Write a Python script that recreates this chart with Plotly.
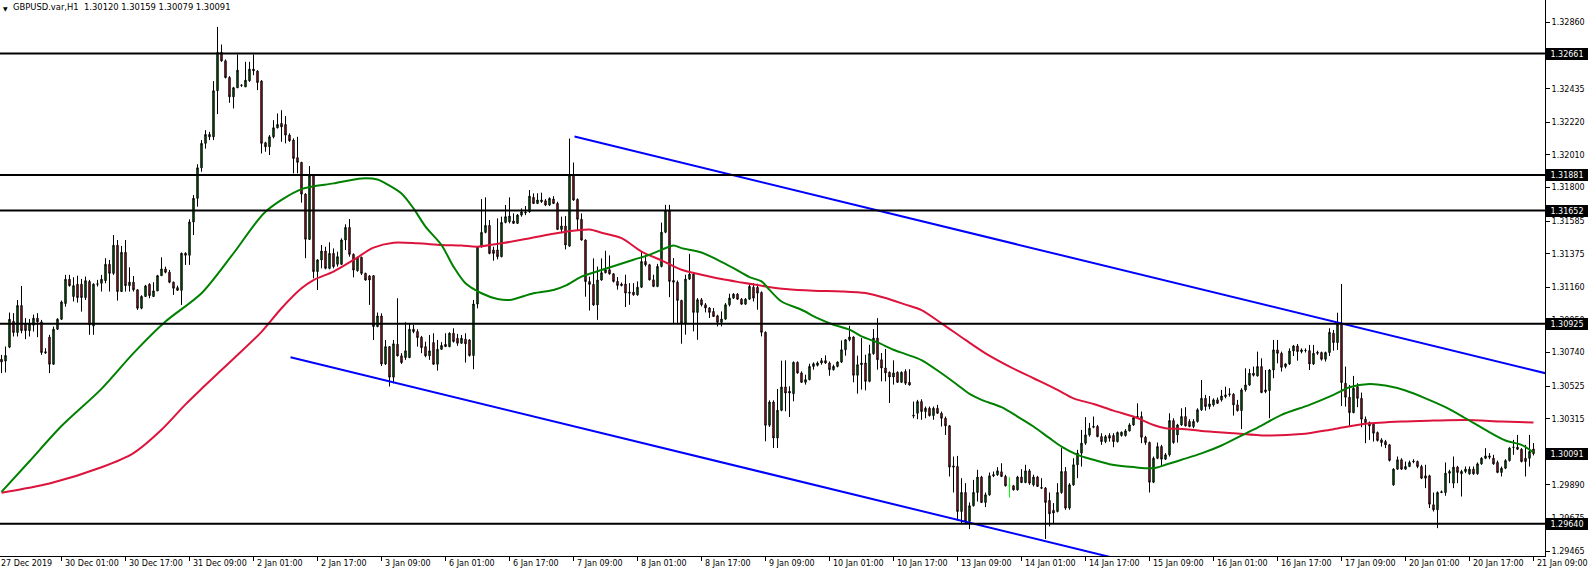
import plotly.graph_objects as go

# ---------------- data (GBPUSD H1, bars numbered from 27 Dec 2019 09:00 = 0) ----------------
open_ = [
 1.30697,1.30685,1.30775,1.30941,1.30869,1.31042,1.30924,1.30881,1.30916,1.30961,
 1.30937,1.30745,1.30839,1.30665,1.30890,1.30954,1.31055,1.31211,1.31100,1.31179,
 1.31179,1.31093,1.31196,1.30911,1.31179,1.31185,1.31202,1.31307,1.31249,1.31429,
 1.31132,1.31384,1.31170,1.31192,1.31143,1.31025,1.31100,1.31179,1.31100,1.31136,
 1.31234,1.31277,1.31256,1.31192,1.31157,1.31140,1.31378,1.31365,1.31579,1.31731,
 1.31927,1.32084,1.32141,1.32126,1.32422,1.32668,1.32614,1.32507,1.32383,1.32441,
 1.32456,1.32447,1.32486,1.32561,1.32548,1.32484,1.32088,1.32062,1.32126,1.32184,
 1.32212,1.32205,1.32137,1.32105,1.31992,1.31962,1.31758,1.31467,1.31880,1.31260,
 1.31335,1.31392,1.31281,1.31377,1.31307,1.31307,1.31463,1.31544,1.31371,1.31266,
 1.31352,1.31249,1.31232,1.31234,1.30907,1.30975,1.30667,1.30778,1.30582,1.30793,
 1.30719,1.30708,1.30708,1.30890,1.30875,1.30838,1.30778,1.30719,1.30804,1.30665,
 1.30761,1.30793,1.30778,1.30864,1.30832,1.30800,1.30826,1.30821,1.30721,1.31052,
 1.31420,1.31512,1.31557,1.31399,1.31399,1.31356,1.31576,1.31581,1.31585,1.31570,
 1.31623,1.31638,1.31645,1.31737,1.31698,1.31709,1.31715,1.31688,1.31726,1.31698,
 1.31531,1.31553,1.31424,1.31880,1.31724,1.31596,1.31463,1.31196,1.31178,1.31046,
 1.31206,1.31253,1.31272,1.31246,1.31197,1.31180,1.31180,1.31128,1.31128,1.31111,
 1.31160,1.31325,1.31304,1.31207,1.31165,1.31293,1.31513,1.31652,1.31203,1.31192,
 1.31075,1.30929,1.31212,1.31244,1.30998,1.31079,1.31047,1.31026,1.31004,1.30976,
 1.30934,1.30955,1.31047,1.31090,1.31115,1.31083,1.31051,1.31083,1.31160,1.31158,
 1.31126,1.30870,1.30273,1.30422,1.30191,1.30369,1.30519,1.30491,1.30476,1.30677,
 1.30609,1.30549,1.30566,1.30651,1.30658,1.30673,1.30688,1.30673,1.30630,1.30651,
 1.30679,1.30758,1.30822,1.30840,1.30594,1.30662,1.30673,1.30555,1.30733,1.30833,
 1.30694,1.30641,1.30613,1.30583,1.30613,1.30549,1.30618,1.30549,1.30337,1.30350,
 1.30425,1.30361,1.30382,1.30335,1.30382,1.30350,1.30318,1.30269,1.30012,1.30008,
 1.29719,1.29841,1.29655,1.29756,1.29841,1.29940,1.29777,1.29826,1.29948,1.29955,
 1.29974,1.29944,1.29884,1.29884,1.29858,1.29940,1.29905,1.29980,1.29890,1.29940,
 1.29873,1.29869,1.29790,1.29726,1.29719,1.29841,1.29976,1.29741,1.29890,1.30019,
 1.30094,1.30158,1.30211,1.30260,1.30265,1.30200,1.30168,1.30207,1.30207,1.30168,
 1.30207,1.30207,1.30237,1.30275,1.30322,1.30329,1.30196,1.30162,1.29907,1.30061,
 1.30136,1.30055,1.30083,1.30303,1.30211,1.30275,1.30329,1.30297,1.30265,1.30297,
 1.30372,1.30446,1.30393,1.30404,1.30436,1.30436,1.30457,1.30470,1.30472,1.30404,
 1.30367,1.30500,1.30532,1.30607,1.30590,1.30650,1.30500,1.30496,1.30628,1.30757,
 1.30735,1.30650,1.30667,1.30750,1.30782,1.30746,1.30752,1.30752,1.30667,1.30735,
 1.30740,1.30697,1.30740,1.30864,1.30804,1.30921,1.30543,1.30453,1.30354,1.30521,
 1.30446,1.30312,1.30290,1.30280,1.30226,1.30179,1.30168,1.30147,1.29890,1.29991,
 1.30051,1.29991,1.30008,1.30038,1.30040,1.30008,1.29948,1.29948,1.29762,1.29730,
 1.29841,1.29841,1.29965,1.29901,1.30004,1.29961,1.29976,1.29961,1.29991,1.29961,
 1.30025,1.30061,1.30076,1.30061,1.30034,1.29970,1.29997,1.30046,1.30130,1.30132,
 1.30119,1.30061,1.30061,1.30120]
high = [
 1.30725,1.30779,1.30997,1.30993,1.31078,1.31168,1.30961,1.30956,1.30984,1.30993,
 1.30950,1.30768,1.30854,1.30907,1.30961,1.31074,1.31239,1.31239,1.31224,1.31234,
 1.31213,1.31228,1.31207,1.31185,1.31207,1.31239,1.31346,1.31335,1.31495,1.31463,
 1.31425,1.31463,1.31288,1.31232,1.31147,1.31108,1.31175,1.31185,1.31192,1.31239,
 1.31352,1.31292,1.31271,1.31196,1.31170,1.31382,1.31384,1.31596,1.31752,1.31950,
 1.32105,1.32169,1.32158,1.32484,1.32832,1.32719,1.32623,1.32516,1.32447,1.32655,
 1.32462,1.32608,1.32608,1.32655,1.32554,1.32490,1.32094,1.32137,1.32233,1.32276,
 1.32297,1.32259,1.32148,1.32116,1.32126,1.31965,1.31763,1.31938,1.31885,1.31340,
 1.31431,1.31420,1.31448,1.31409,1.31388,1.31474,1.31564,1.31598,1.31377,1.31356,
 1.31356,1.31253,1.31238,1.31238,1.30997,1.30992,1.30821,1.30782,1.30821,1.31089,
 1.30736,1.30935,1.30928,1.30918,1.30890,1.30847,1.30810,1.30853,1.30864,1.30821,
 1.30807,1.30864,1.30870,1.30896,1.30860,1.30853,1.30864,1.30825,1.31078,1.31424,
 1.31726,1.31737,1.31591,1.31420,1.31602,1.31613,1.31688,1.31737,1.31634,1.31630,
 1.31666,1.31681,1.31784,1.31763,1.31763,1.31767,1.31726,1.31737,1.31745,1.31709,
 1.31613,1.31617,1.32115,1.31961,1.31730,1.31634,1.31467,1.31228,1.31345,1.31292,
 1.31345,1.31394,1.31364,1.31250,1.31225,1.31190,1.31240,1.31186,1.31186,1.31197,
 1.31389,1.31368,1.31310,1.31240,1.31310,1.31575,1.31689,1.31689,1.31347,1.31203,
 1.31079,1.31240,1.31374,1.31250,1.31090,1.31090,1.31058,1.31032,1.31026,1.30983,
 1.31004,1.31058,1.31118,1.31122,1.31122,1.31090,1.31090,1.31182,1.31186,1.31182,
 1.31133,1.30876,1.30433,1.30433,1.30506,1.30688,1.30690,1.30523,1.30683,1.30683,
 1.30619,1.30598,1.30668,1.30677,1.30683,1.30705,1.30722,1.30683,1.30662,1.30683,
 1.30818,1.30827,1.30912,1.30844,1.30720,1.30833,1.30726,1.30790,1.30891,1.30961,
 1.30737,1.30763,1.30619,1.30690,1.30619,1.30619,1.30633,1.30633,1.30425,1.30436,
 1.30440,1.30393,1.30393,1.30393,1.30404,1.30361,1.30329,1.30275,1.30072,1.30076,
 1.29933,1.29901,1.29777,1.29922,1.29987,1.29948,1.29841,1.29969,1.29976,1.30004,
 1.30029,1.29955,1.29940,1.29890,1.29948,1.29991,1.30019,1.29991,1.29955,1.29948,
 1.29933,1.29876,1.29841,1.29773,1.29901,1.30126,1.30004,1.29901,1.30061,1.30115,
 1.30243,1.30325,1.30288,1.30329,1.30275,1.30222,1.30211,1.30222,1.30222,1.30233,
 1.30233,1.30248,1.30286,1.30329,1.30414,1.30361,1.30205,1.30168,1.30072,1.30162,
 1.30147,1.30094,1.30350,1.30318,1.30282,1.30382,1.30389,1.30312,1.30312,1.30382,
 1.30564,1.30468,1.30461,1.30446,1.30451,1.30500,1.30521,1.30511,1.30479,1.30436,
 1.30511,1.30639,1.30635,1.30650,1.30746,1.30703,1.30628,1.30633,1.30821,1.30821,
 1.30746,1.30671,1.30767,1.30789,1.30795,1.30767,1.30767,1.30789,1.30789,1.30752,
 1.30746,1.30746,1.30896,1.30885,1.30996,1.31180,1.30650,1.30532,1.30590,1.30543,
 1.30483,1.30329,1.30297,1.30286,1.30233,1.30190,1.30179,1.30153,1.29997,1.30072,
 1.30061,1.30040,1.30046,1.30055,1.30046,1.30019,1.30019,1.29955,1.29841,1.29848,
 1.29854,1.30034,1.29987,1.30072,1.30012,1.29987,1.30008,1.30008,1.30008,1.30034,
 1.30068,1.30126,1.30094,1.30083,1.30046,1.30008,1.30055,1.30132,1.30179,1.30211,
 1.30126,1.30147,1.30211,1.30159]
low = [
 1.30608,1.30612,1.30768,1.30843,1.30843,1.30864,1.30826,1.30843,1.30875,1.30839,
 1.30725,1.30732,1.30608,1.30661,1.30886,1.30950,1.31035,1.31164,1.31068,1.31061,
 1.31003,1.31078,1.30854,1.30854,1.31164,1.31132,1.31185,1.31132,1.31239,1.31074,
 1.31132,1.31132,1.31132,1.31132,1.31014,1.31018,1.31100,1.31089,1.31100,1.31136,
 1.31232,1.31249,1.31185,1.31110,1.31136,1.31046,1.31303,1.31303,1.31495,1.31677,
 1.31902,1.32050,1.32105,1.32105,1.32272,1.32608,1.32501,1.32345,1.32308,1.32441,
 1.32447,1.32447,1.32480,1.32522,1.32426,1.32019,1.32030,1.32009,1.32116,1.32180,
 1.32094,1.32084,1.32094,1.31891,1.31891,1.31703,1.31346,1.31463,1.31217,1.31142,
 1.31281,1.31275,1.31275,1.31281,1.31292,1.31303,1.31399,1.31356,1.31223,1.31260,
 1.31238,1.31202,1.31046,1.30821,1.30903,1.30654,1.30660,1.30522,1.30543,1.30715,
 1.30667,1.30693,1.30704,1.30864,1.30778,1.30736,1.30710,1.30693,1.30661,1.30624,
 1.30757,1.30778,1.30774,1.30804,1.30783,1.30796,1.30676,1.30714,1.30633,1.31024,
 1.31414,1.31506,1.31371,1.31330,1.31339,1.31352,1.31570,1.31570,1.31566,1.31566,
 1.31613,1.31623,1.31638,1.31694,1.31694,1.31702,1.31681,1.31681,1.31694,1.31527,
 1.31506,1.31403,1.31420,1.31715,1.31527,1.31459,1.31099,1.31010,1.31040,1.30950,
 1.31202,1.31249,1.31240,1.31190,1.31144,1.31165,1.31032,1.31047,1.31105,1.31105,
 1.31154,1.31293,1.31203,1.31160,1.31160,1.31287,1.31507,1.31096,1.30929,1.30929,
 1.30797,1.30855,1.31207,1.30876,1.30822,1.31036,1.30998,1.30962,1.30968,1.30908,
 1.30908,1.30951,1.31036,1.31084,1.31079,1.31047,1.31047,1.31079,1.31068,1.31015,
 1.30844,1.30170,1.30262,1.30127,1.30127,1.30363,1.30363,1.30326,1.30427,1.30604,
 1.30545,1.30534,1.30562,1.30630,1.30651,1.30662,1.30668,1.30591,1.30624,1.30645,
 1.30673,1.30720,1.30812,1.30549,1.30476,1.30502,1.30497,1.30549,1.30726,1.30630,
 1.30555,1.30555,1.30416,1.30534,1.30545,1.30545,1.30532,1.30528,1.30318,1.30312,
 1.30308,1.30318,1.30329,1.30308,1.30346,1.30265,1.30211,1.29944,1.29841,1.29661,
 1.29644,1.29644,1.29606,1.29751,1.29783,1.29773,1.29747,1.29820,1.29940,1.29948,
 1.29940,1.29880,1.29809,1.29854,1.29854,1.29901,1.29901,1.29890,1.29880,1.29876,
 1.29863,1.29542,1.29623,1.29644,1.29713,1.29833,1.29730,1.29730,1.29884,1.29933,
 1.30008,1.30147,1.30200,1.30254,1.30196,1.30147,1.30158,1.30168,1.30132,1.30162,
 1.30200,1.30200,1.30233,1.30269,1.30318,1.30158,1.30147,1.29841,1.29901,1.30055,
 1.30008,1.30051,1.30072,1.30154,1.30162,1.30269,1.30265,1.30260,1.30254,1.30290,
 1.30365,1.30367,1.30376,1.30393,1.30410,1.30425,1.30446,1.30457,1.30335,1.30361,
 1.30248,1.30489,1.30526,1.30586,1.30586,1.30479,1.30479,1.30318,1.30575,1.30671,
 1.30618,1.30639,1.30660,1.30718,1.30688,1.30735,1.30740,1.30628,1.30660,1.30725,
 1.30688,1.30682,1.30718,1.30752,1.30757,1.30397,1.30393,1.30269,1.30350,1.30389,
 1.30260,1.30158,1.30179,1.30168,1.30168,1.30136,1.30126,1.30040,1.29884,1.29987,
 1.29987,1.29987,1.30004,1.30029,1.29997,1.29927,1.29869,1.29741,1.29719,1.29612,
 1.29837,1.29820,1.29901,1.29869,1.29901,1.29815,1.29965,1.29955,1.29955,1.29955,
 1.30019,1.30055,1.30055,1.30019,1.29965,1.29944,1.29991,1.30040,1.30083,1.30115,
 1.30034,1.29944,1.30008,1.30079]
close = [
 1.30680,1.30721,1.30954,1.30869,1.31042,1.30881,1.30881,1.30924,1.30961,1.30937,
 1.30740,1.30738,1.30665,1.30890,1.30954,1.31065,1.31211,1.31170,1.31170,1.31093,
 1.31093,1.31202,1.30918,1.31179,1.31181,1.31211,1.31307,1.31249,1.31429,1.31132,
 1.31384,1.31170,1.31192,1.31143,1.31025,1.31100,1.31168,1.31106,1.31136,1.31234,
 1.31277,1.31256,1.31192,1.31153,1.31140,1.31378,1.31365,1.31579,1.31731,1.31927,
 1.32084,1.32141,1.32126,1.32422,1.32668,1.32614,1.32507,1.32383,1.32441,1.32554,
 1.32458,1.32490,1.32561,1.32550,1.32475,1.32084,1.32062,1.32126,1.32184,1.32205,
 1.32190,1.32137,1.32101,1.31987,1.31962,1.31758,1.31468,1.31880,1.31260,1.31335,
 1.31392,1.31281,1.31377,1.31292,1.31356,1.31463,1.31544,1.31371,1.31270,1.31352,
 1.31249,1.31206,1.31206,1.30907,1.30975,1.30667,1.30778,1.30582,1.30796,1.30719,
 1.30676,1.30751,1.30890,1.30875,1.30836,1.30772,1.30719,1.30751,1.30665,1.30761,
 1.30785,1.30778,1.30864,1.30811,1.30800,1.30832,1.30796,1.30721,1.31052,1.31420,
 1.31512,1.31557,1.31377,1.31377,1.31356,1.31576,1.31613,1.31617,1.31570,1.31623,
 1.31645,1.31643,1.31745,1.31698,1.31720,1.31720,1.31688,1.31730,1.31698,1.31531,
 1.31553,1.31431,1.31880,1.31720,1.31596,1.31463,1.31196,1.31178,1.31046,1.31206,
 1.31253,1.31272,1.31246,1.31197,1.31171,1.31171,1.31122,1.31122,1.31111,1.31160,
 1.31325,1.31304,1.31207,1.31165,1.31293,1.31513,1.31652,1.31197,1.31192,1.31075,
 1.30929,1.31212,1.31244,1.30998,1.31079,1.31047,1.31026,1.30998,1.30972,1.30934,
 1.30955,1.31047,1.31090,1.31115,1.31083,1.31051,1.31083,1.31165,1.31090,1.31122,
 1.30870,1.30273,1.30422,1.30191,1.30369,1.30519,1.30480,1.30480,1.30677,1.30609,
 1.30549,1.30566,1.30651,1.30668,1.30673,1.30688,1.30673,1.30630,1.30651,1.30679,
 1.30758,1.30822,1.30840,1.30594,1.30662,1.30673,1.30555,1.30733,1.30833,1.30694,
 1.30641,1.30609,1.30583,1.30609,1.30549,1.30613,1.30543,1.30532,1.30333,1.30425,
 1.30361,1.30382,1.30335,1.30382,1.30350,1.30318,1.30269,1.30004,1.30004,1.29719,
 1.29841,1.29655,1.29756,1.29841,1.29940,1.29777,1.29826,1.29948,1.29955,1.29980,
 1.29944,1.29884,1.29884,1.29858,1.29940,1.29905,1.29980,1.29901,1.29940,1.29880,
 1.29869,1.29777,1.29704,1.29709,1.29841,1.29976,1.29741,1.29890,1.30019,1.30094,
 1.30158,1.30211,1.30254,1.30265,1.30200,1.30168,1.30200,1.30190,1.30168,1.30226,
 1.30228,1.30237,1.30275,1.30322,1.30329,1.30196,1.30162,1.29907,1.30061,1.30136,
 1.30055,1.30083,1.30303,1.30162,1.30275,1.30329,1.30269,1.30265,1.30297,1.30372,
 1.30446,1.30393,1.30410,1.30436,1.30414,1.30461,1.30468,1.30474,1.30404,1.30367,
 1.30500,1.30532,1.30607,1.30594,1.30650,1.30483,1.30489,1.30628,1.30757,1.30735,
 1.30645,1.30667,1.30750,1.30782,1.30746,1.30757,1.30754,1.30667,1.30735,1.30742,
 1.30697,1.30740,1.30870,1.30804,1.30921,1.30547,1.30453,1.30354,1.30511,1.30446,
 1.30312,1.30290,1.30269,1.30222,1.30175,1.30162,1.30147,1.30047,1.29991,1.30051,
 1.29991,1.30008,1.30034,1.30042,1.30008,1.29933,1.29933,1.29766,1.29730,1.29841,
 1.29845,1.29965,1.29976,1.30004,1.29970,1.29976,1.29991,1.29991,1.29961,1.30025,
 1.30061,1.30076,1.30068,1.30025,1.29970,1.29997,1.30046,1.30126,1.30132,1.30119,
 1.30040,1.30040,1.30104,1.30091]

# highlighted (lime) bar on 13 Jan
lime_bar = 253

# moving averages (bar number, price)
ma_green_bar = [1,8,16,26,34,42,51,59,67,76,84,91,95,97,101,104,107,111,114,117,
                121,125,128,134,139,142,146,151,159,163,166,169,171,176,180,184,188,191,193,196,
                201,205,209,213,216,220,224,227,231,236,240,243,246,251,255,259,263,266,270,274,
                278,284,289,292,296,301,306,311,316,321,328,334,338,343,347,352,357,362,367,372,
                377,381,384]
ma_green_val = [1.29845,1.30042,1.30268,1.30507,1.30736,1.30939,1.31121,1.31378,1.31645,1.31790,
                1.31827,1.31859,1.31852,1.31827,1.31762,1.31666,1.31549,1.31431,1.31292,1.31185,
                1.31121,1.31084,1.31078,1.31121,1.31142,1.31170,1.31228,1.31270,1.31336,1.31368,
                1.31400,1.31428,1.31411,1.31383,1.31336,1.31282,1.31225,1.31197,1.31143,1.31068,
                1.31015,1.30961,1.30919,1.30887,1.30844,1.30805,1.30758,1.30730,1.30692,1.30607,
                1.30532,1.30474,1.30436,1.30389,1.30329,1.30265,1.30190,1.30136,1.30083,1.30051,
                1.30023,1.30004,1.29997,1.30019,1.30051,1.30092,1.30143,1.30207,1.30271,1.30340,
                1.30404,1.30468,1.30517,1.30538,1.30528,1.30496,1.30446,1.30389,1.30318,1.30243,
                1.30175,1.30147,1.30098]
ma_red_bar = [1,13,26,34,41,47,51,59,66,71,76,79,84,89,94,99,105,111,116,120,
              126,132,138,142,148,151,156,161,166,171,176,181,186,192,197,204,211,217,222,227,
              231,236,242,247,253,259,265,269,274,279,284,289,292,297,301,309,317,326,334,342,
              351,359,367,376,384]
ma_red_val = [1.29840,1.29899,1.30003,1.30094,1.30244,1.30407,1.30507,1.30700,1.30873,1.31025,
              1.31153,1.31206,1.31260,1.31335,1.31414,1.31446,1.31442,1.31431,1.31427,1.31420,
              1.31442,1.31469,1.31499,1.31516,1.31531,1.31510,1.31475,1.31389,1.31332,1.31272,
              1.31240,1.31212,1.31190,1.31165,1.31148,1.31137,1.31133,1.31122,1.31090,1.31048,
              1.31013,1.30928,1.30821,1.30735,1.30650,1.30575,1.30500,1.30446,1.30410,1.30367,
              1.30329,1.30275,1.30254,1.30248,1.30236,1.30222,1.30207,1.30216,1.30248,1.30282,
              1.30297,1.30303,1.30307,1.30297,1.30290]

# trend lines (bar, price)
trend_upper_bar = [144.25, 387.0]
trend_upper_val = [1.32128, 1.30607]
trend_lower_bar = [73.25, 280.0]
trend_lower_val = [1.30710, 1.29415]

# horizontal levels
levels = [1.32661, 1.31881, 1.31652, 1.30925, 1.29640]

# axis ticks
y_ticks = [1.32860, 1.32645, 1.32435, 1.32220, 1.32010, 1.31800, 1.31585, 1.31375, 1.31160,
           1.30950, 1.30740, 1.30525, 1.30315, 1.30100, 1.29890, 1.29675, 1.29465]
x_tick_bars = [0, 16, 32, 48, 64, 80, 96, 112, 128, 144, 160, 176, 192, 208, 224, 240, 256,
               272, 288, 304, 320, 336, 352, 368, 384]
x_tick_labels = ['27 Dec 2019', '30 Dec 01:00', '30 Dec 17:00', '31 Dec 09:00', '2 Jan 01:00',
                 '2 Jan 17:00', '3 Jan 09:00', '6 Jan 01:00', '6 Jan 17:00', '7 Jan 09:00',
                 '8 Jan 01:00', '8 Jan 17:00', '9 Jan 09:00', '10 Jan 01:00', '10 Jan 17:00',
                 '13 Jan 09:00', '14 Jan 01:00', '14 Jan 17:00', '15 Jan 09:00', '16 Jan 01:00',
                 '16 Jan 17:00', '17 Jan 09:00', '20 Jan 01:00', '20 Jan 17:00', '21 Jan 09:00']
symbol = 'GBPUSD.var,H1'

# ---------------- style ----------------
FONT = 'DejaVu Sans'
FS = 8
W, H = 1590, 572
M_L, M_R, M_T, M_B = 0, 45, 0, 16
X_RANGE = [0.625, 386.875]
Y_RANGE = [1.29433, 1.33005]
BODY_UP = '#008000'
BODY_DN = '#d01c30'

N = len(close)
bars = list(range(1, N + 1))
keep = [i for i in range(N) if bars[i] != lime_bar]
lime = [i for i in range(N) if bars[i] == lime_bar]

def pick(arr, idx):
    return [arr[i] for i in idx]

fig = go.Figure()
fig.add_trace(go.Candlestick(
    x=pick(bars, keep), open=pick(open_, keep), high=pick(high, keep),
    low=pick(low, keep), close=pick(close, keep),
    increasing=dict(line=dict(color='black', width=1), fillcolor=BODY_UP),
    decreasing=dict(line=dict(color='black', width=1), fillcolor=BODY_DN),
    whiskerwidth=0, hoverinfo='skip', showlegend=False))
fig.add_trace(go.Candlestick(
    x=pick(bars, lime), open=pick(open_, lime), high=pick(high, lime),
    low=pick(low, lime), close=pick(close, lime),
    increasing=dict(line=dict(color='#00ff00', width=1), fillcolor='#00ff00'),
    decreasing=dict(line=dict(color='#00ff00', width=1), fillcolor='#00ff00'),
    whiskerwidth=0, hoverinfo='skip', showlegend=False))

fig.add_trace(go.Scatter(x=ma_red_bar, y=ma_red_val, mode='lines',
                         line=dict(color='#dc143c', width=2, shape='spline', smoothing=0.8),
                         hoverinfo='skip', showlegend=False))
fig.add_trace(go.Scatter(x=ma_green_bar, y=ma_green_val, mode='lines',
                         line=dict(color='#008000', width=2, shape='spline', smoothing=0.8),
                         hoverinfo='skip', showlegend=False))
fig.add_trace(go.Scatter(x=trend_upper_bar, y=trend_upper_val, mode='lines',
                         line=dict(color='#0000ff', width=2), hoverinfo='skip', showlegend=False))
fig.add_trace(go.Scatter(x=trend_lower_bar, y=trend_lower_val, mode='lines',
                         line=dict(color='#0000ff', width=2), hoverinfo='skip', showlegend=False))

shapes = []
for lv in levels:
    shapes.append(dict(type='line', xref='paper', x0=0, x1=1, yref='y', y0=lv, y1=lv,
                       line=dict(color='black', width=2), layer='above'))

annotations = []
# price boxes on the right axis
for lv in levels + [close[-1]]:
    annotations.append(dict(xref='paper', x=1, xanchor='left', xshift=1,
                            yref='y', y=lv, yanchor='middle',
                            text=f'{lv:.5f}', showarrow=False,
                            font=dict(family=FONT, size=FS, color='white'),
                            bgcolor='black', borderpad=0, borderwidth=0,
                            width=42, height=12, align='center'))

# time labels (left aligned to their tick)
plot_w = W - M_L - M_R
px_per_bar = plot_w / (X_RANGE[1] - X_RANGE[0])
for b, t in zip(x_tick_bars, x_tick_labels):
    xa = max(b, X_RANGE[0])
    annotations.append(dict(xref='x', x=xa, xanchor='left', xshift=(b - xa) * px_per_bar + 1,
                            yref='paper', y=0, yanchor='top', yshift=-1,
                            text=t, showarrow=False,
                            font=dict(family=FONT, size=FS, color='black')))

# header
annotations.append(dict(xref='paper', x=0, xanchor='left', xshift=1, yref='paper', y=1,
                        yanchor='top', yshift=-3, text='▼', showarrow=False,
                        font=dict(family=FONT, size=6, color='black')))
annotations.append(dict(xref='paper', x=0, xanchor='left', xshift=11, yref='paper', y=1,
                        yanchor='top', yshift=0,
                        text=f'{symbol}&nbsp;&nbsp;{open_[-1]:.5f} {high[-1]:.5f} {low[-1]:.5f} {close[-1]:.5f}',
                        showarrow=False, font=dict(family=FONT, size=8.4, color='black')))

fig.update_layout(
    width=W, height=H, margin=dict(l=M_L, r=M_R, t=M_T, b=M_B, pad=0),
    paper_bgcolor='white', plot_bgcolor='white', boxgap=0.5,
    shapes=shapes, annotations=annotations, showlegend=False,
    xaxis=dict(range=X_RANGE, rangeslider=dict(visible=False), showgrid=False, zeroline=False,
               showline=True, linecolor='black', linewidth=1,
               tickmode='array', tickvals=x_tick_bars, showticklabels=False,
               ticks='outside', ticklen=4, tickcolor='black', tickwidth=1),
    yaxis=dict(range=Y_RANGE, side='right', showgrid=False, zeroline=False,
               showline=True, linecolor='black', linewidth=1,
               tickmode='array', tickvals=y_ticks, ticktext=[f'{v:.5f}' for v in y_ticks],
               ticks='outside', ticklen=4, tickcolor='black', tickwidth=1,
               tickfont=dict(family=FONT, size=FS, color='black')),
)

fig.write_html('out.html', config={'displayModeBar': False},
               post_script="document.body.style.margin='0';document.body.style.overflow='hidden';")
